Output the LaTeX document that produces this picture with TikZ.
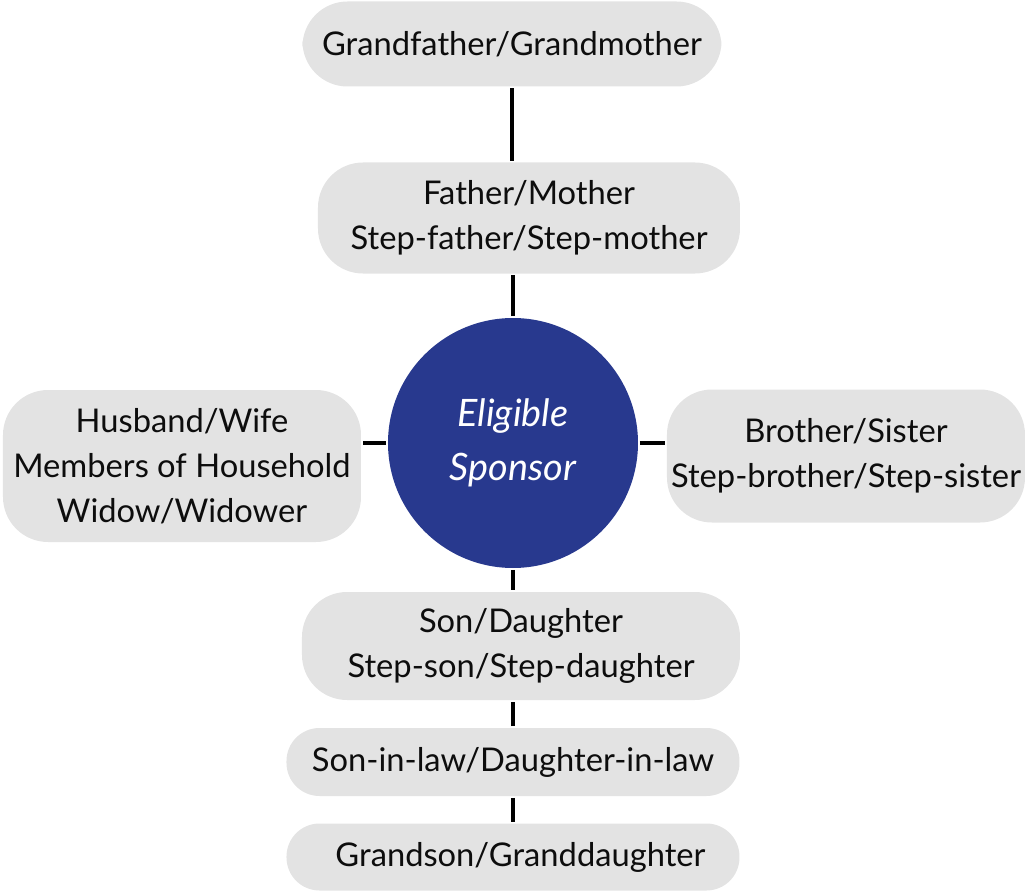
\documentclass[tikz,border=0pt]{standalone}
\usepackage{fontspec}
\setmainfont{Lato}
\usetikzlibrary{positioning}
\definecolor{boxgray}{RGB}{227,227,227}
\definecolor{sponsorblue}{RGB}{40,57,142}

\begin{document}
\begin{tikzpicture}[node distance=3cm, on grid, line width=2.2pt,
					rel/.style={rectangle, rounded corners=0.9cm, fill=boxgray, align=center,
						inner sep=0pt, text=black!95, font=\fontsize{18.6}{25.6}\selectfont},
					slim/.style={rel, rounded corners=0.66cm, minimum width=9.06cm},
					center/.style={circle, fill=sponsorblue, minimum size=5cm, inner sep=0pt,
						text=white, align=center, font=\itshape\fontsize{21.5}{31}\selectfont} ]
					\useasboundingbox (-10.26,-9.0) rectangle (10.28,8.86);
					
					\node[center] (sponsor) {Eligible\\Sponsor};
					
					%Ascendentes:
					\node[rel, minimum width=8.44cm, minimum height=2.22cm] (parents) [above right=4.5cm and 0.32cm of sponsor] {Father/Mother\\Step-father/Step-mother};
					\node[rel, minimum width=8.38cm, minimum height=1.7cm] (grand) [above left=7.98cm and 0.02cm of sponsor] {Grandfather/Grandmother};
					
					%Laterais:
					\node[rel, minimum width=7.16cm, minimum height=3.04cm] (spouse) [below left=0.46cm and 6.62cm of sponsor] {Husband/Wife\\Members of Household\\Widow/Widower};
					\node[rel, minimum width=7.16cm, minimum height=2.66cm] (sibling) [below right=0.26cm and 6.66cm of sponsor] {Brother/Sister\\Step-brother/Step-sister};
					
					%Descendentes:
					\node[rel, minimum width=8.76cm, minimum height=2.16cm] (children) [below right=4.06cm and 0.16cm of sponsor] {Son/Daughter\\Step-son/Step-daughter};
					\node[slim, minimum height=1.36cm] (inlaw) [below=6.38cm of sponsor] {Son-in-law/Daughter-in-law};
					\node[slim, minimum height=1.34cm] (grandchild) [below=8.28cm of sponsor] {\hspace{0.3cm}Grandson/Granddaughter};
					
					%Ligações:
					\draw (grand.south) -- (grand.south |- parents.north);
					\draw (sponsor.north) -- (sponsor.north |- parents.south);
					\draw (sponsor.west) -- (sponsor.west -| spouse.east);
					\draw (sponsor.east) -- (sponsor.east -| sibling.west);
					\draw (sponsor.south) -- (sponsor.south |- children.north);
					\draw (inlaw.north) -- (inlaw.north |- children.south);
					\draw (inlaw.south) -- (grandchild.north);
				\end{tikzpicture}
\end{document}
